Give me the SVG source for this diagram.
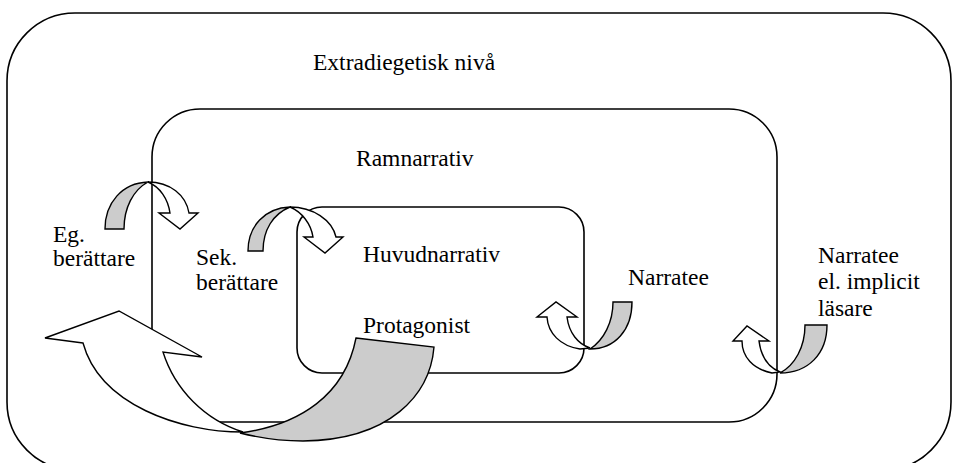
<svg xmlns="http://www.w3.org/2000/svg" width="957" height="463" viewBox="0 0 957 463">
<style>
.box{fill:none;stroke:#000;stroke-width:1.6}
.w{fill:#fff;stroke:#000;stroke-width:1.4;stroke-linejoin:miter}
.g{fill:#cccccc;stroke:#000;stroke-width:1.4;stroke-linejoin:miter}
text{font-family:"Liberation Serif","Times New Roman",serif;font-size:23.5px;fill:#000}
</style>
<rect width="957" height="463" fill="#fff"/>
<g id="extradiegetisk">
<rect class="box" x="7" y="13" width="944" height="457" rx="68" ry="68"/>
<text x="313" y="70">Extradiegetisk nivå</text>
</g>
<g id="ramnarrativ">
<rect class="box" x="152" y="109" width="625" height="313" rx="48" ry="48"/>
<text x="356" y="166">Ramnarrativ</text>
</g>
<g id="huvudnarrativ">
<rect class="box" x="297" y="207" width="287" height="166" rx="25" ry="25"/>
<text x="363" y="262">Huvudnarrativ</text>
<text x="363" y="333">Protagonist</text>
</g>
<g id="eg-berattare">
<text x="53" y="242">Eg.</text>
<text x="53" y="266">berättare</text>
</g>
<g id="sek-berattare">
<text x="196" y="265">Sek.</text>
<text x="196" y="290">berättare</text>
</g>
<g id="narratee">
<text x="628" y="285">Narratee</text>
</g>
<g id="narratee-lasare">
<text x="818" y="263">Narratee</text>
<text x="818" y="289">el. implicit</text>
<text x="818" y="316">läsare</text>
</g>
<g id="connectors">
<path class="g" d="M105,229 L124,229 C124,208 133,190 148,182 C122,183 105,203 105,229 Z"/>
<path class="w" d="M148,182 C170,182 186,195 189,213 L198,213 L180,229 L159,213 L170,213 C168,199 160,187 148,182 Z"/>
<path class="g" d="M248,251 L263,251 C263,230 273,214 290,207 C265,208 248,226 248,251 Z"/>
<path class="w" d="M290,207 C313,207 332,220 336,237 L343,237 L325,253 L304,237 L313,237 C311,224 302,212 290,207 Z"/>
<path class="g" d="M613,302 L632,302 C632,330 615,349 590,349 C604,340 613,322 613,302 Z"/>
<path class="w" d="M547,317 L537,317 L556,302 L577,317 L567,317 C569,333 578,344 590,348 L580,349 C560,346 548,333 547,317 Z"/>
<path class="g" d="M805,325 L827,325 C827,354 808,373 780,373 C795,365 805,347 805,325 Z"/>
<path class="w" d="M742,341 L733,341 L747,326 L769,341 L759,341 C761,357 768,367 780,372 L772,373 C753,369 742,357 742,341 Z"/>
<path class="w" d="M83,343 L45,338 L119,311 L202,357 L163,352 C175,390 205,420 243,432 C180,432 100,405 83,343 Z"/>
<path class="g" d="M356,338 L434,347 C430,395 390,440 303,441 C280,441 260,438 240,433 C300,425 345,395 356,338 Z"/>
</g>
</svg>
